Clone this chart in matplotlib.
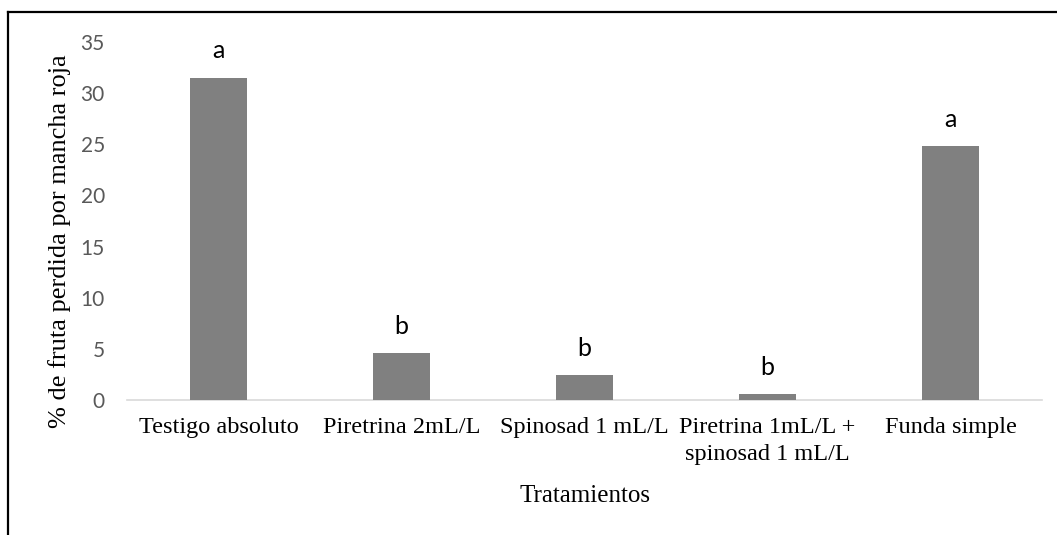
import matplotlib.pyplot as plt
from matplotlib.lines import Line2D

tratamientos = [
    "Testigo absoluto",
    "Piretrina 2mL/L",
    "Spinosad 1 mL/L",
    "Piretrina 1mL/L +\nspinosad 1 mL/L",
    "Funda simple",
]
perdida = [31.5, 4.6, 2.4, 0.55, 24.8]
letras = ["a", "b", "b", "b", "a"]
yticks = [0, 5, 10, 15, 20, 25, 30, 35]

W, H = 1057, 535
fig = plt.figure(figsize=(W / 100, H / 100), dpi=100)
ax = fig.add_axes([127 / W, 1 - 400 / H, (1042 - 127) / W, (400 - 42) / H])

x = list(range(len(tratamientos)))
ax.bar(x, perdida, width=0.31, color="#808080", zorder=3)

for xi, yi, txt in zip(x, perdida, letras):
    ax.annotate(txt, (xi, yi), xytext=(0, 14), textcoords="offset points",
                ha="center", va="baseline", fontsize=18, family="Lato",
                color="black")

ax.set_xlim(-0.5, len(tratamientos) - 0.5)
ax.set_ylim(0, 35)
ax.set_yticks(yticks)
ax.set_yticklabels([str(v) for v in yticks], family="Lato", fontsize=15,
                   color="#595959")
ax.set_xticks(x)
ax.set_xticklabels(tratamientos, family="Liberation Serif", fontsize=17.5,
                   color="black", linespacing=1.4)
ax.tick_params(axis="both", length=0)
ax.tick_params(axis="y", pad=16)
ax.tick_params(axis="x", pad=12)

for side in ("top", "right", "left"):
    ax.spines[side].set_visible(False)
ax.spines["bottom"].set_color("#d9d9d9")
ax.spines["bottom"].set_linewidth(1.2)

ax.set_xlabel("Tratamientos", family="Liberation Serif", fontsize=18)
ax.xaxis.set_label_coords(0.5, (400 - 502) / 358)
ax.xaxis.label.set_va("baseline")
ax.set_ylabel("% de fruta perdida por mancha roja", family="Liberation Serif",
              fontsize=19)
ax.yaxis.set_label_coords((60 - 127) / 915, (400 - 241) / 358)
ax.yaxis.label.set_va("center")

# figure frame: only top and left edges are visible in the original
fig.add_artist(Line2D([8 / W, 1], [1 - 12 / H, 1 - 12 / H], color="black",
                      linewidth=1.6, transform=fig.transFigure))
fig.add_artist(Line2D([8 / W, 8 / W], [0, 1 - 12 / H], color="black",
                      linewidth=1.6, transform=fig.transFigure))

fig.savefig("out.png", dpi=100)
